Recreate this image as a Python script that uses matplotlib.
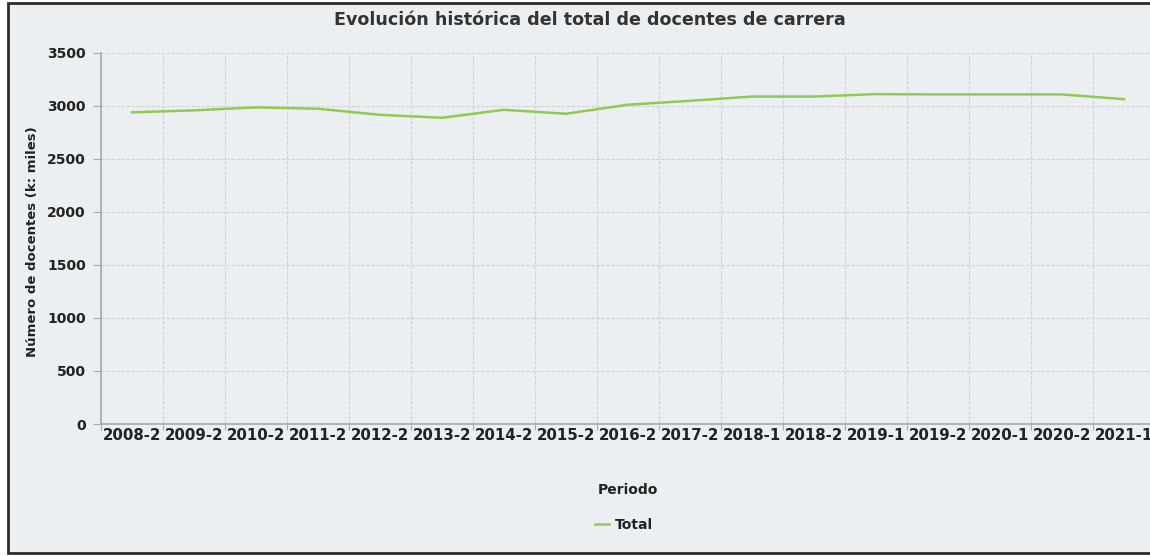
import numpy as np
import matplotlib
matplotlib.use("Agg")
import matplotlib.pyplot as plt
from matplotlib.patches import Rectangle

# datos
periodos = ["2008-2", "2009-2", "2010-2", "2011-2", "2012-2", "2013-2", "2014-2",
            "2015-2", "2016-2", "2017-2", "2018-1", "2018-2", "2019-1", "2019-2",
            "2020-1", "2020-2", "2021-1"]
total = [2936, 2955, 2983, 2970, 2913, 2885, 2960, 2923, 3008, 3045, 3085, 3085,
         3108, 3105, 3105, 3105, 3060]
y_ticks = [0, 500, 1000, 1500, 2000, 2500, 3000, 3500]

bg = "#ECEFF1"
verde = "#8FCB4E"
texto = "#222222"

W, H = 1150, 556
fig = plt.figure(figsize=(W / 100, H / 100), dpi=100)
fig.patch.set_facecolor("white")

# marco exterior
fig.patches.append(Rectangle((8 / W, 3 / H), 1.2, 550 / H, transform=fig.transFigure,
                             facecolor=bg, edgecolor="#2b2b2b", linewidth=2, zorder=-5))

ax = fig.add_axes([101 / W, 132 / H, 1054 / W, 371.5 / H])
ax.set_zorder(2)
ax.set_facecolor(bg)

x = np.arange(len(periodos))
ax.plot(x, total, color=verde, linewidth=1.8, label="Total", zorder=3)

ax.set_xlim(-0.5, len(periodos) - 0.5)
ax.set_ylim(0, 3500)

# ticks mayores en los limites de categoria (rejilla), menores con etiquetas
ax.set_xticks(np.arange(-0.5, len(periodos), 1.0))
ax.set_xticklabels([])
ax.set_xticks(x, minor=True)
ax.set_xticklabels(periodos, minor=True, fontsize=10.8, fontweight="bold", color=texto)
ax.tick_params(axis="x", which="major", length=4, color="#a8a8a8")
ax.tick_params(axis="x", which="minor", length=0, pad=3)

ax.set_yticks(y_ticks)
ax.set_yticklabels([str(v) for v in y_ticks], fontsize=10, fontweight="bold", color=texto)
ax.tick_params(axis="y", length=6, color="#a8a8a8", pad=5)

ax.grid(True, which="major", color="#cfd2d4", linestyle=(0, (3, 1.5)), linewidth=0.8)
ax.set_axisbelow(True)

for s in ["top", "right"]:
    ax.spines[s].set_visible(False)
for s in ["left", "bottom"]:
    ax.spines[s].set_color("#a8a8a8")
    ax.spines[s].set_linewidth(1.2)

fig.text(590 / W, 1 - 20 / H, "Evolución histórica del total de docentes de carrera",
         ha="center", va="center", fontsize=12.6, fontweight="bold", color="#333333")
fig.text(33 / W, 1 - 242 / H, "Número de docentes (k: miles)", rotation=90,
         ha="center", va="center", fontsize=9.5, fontweight="bold", color=texto)
fig.text(628 / W, 1 - 490 / H, "Periodo", ha="center", va="center",
         fontsize=10, fontweight="bold", color=texto)

leg = fig.legend(loc="center", bbox_to_anchor=(624 / W, 1 - 525 / H), frameon=False,
                 handlelength=1.0, handletextpad=0.4,
                 prop={"size": 10, "weight": "bold"})
for t in leg.get_texts():
    t.set_color(texto)

fig.savefig("out.png", dpi=100, facecolor=fig.get_facecolor())
